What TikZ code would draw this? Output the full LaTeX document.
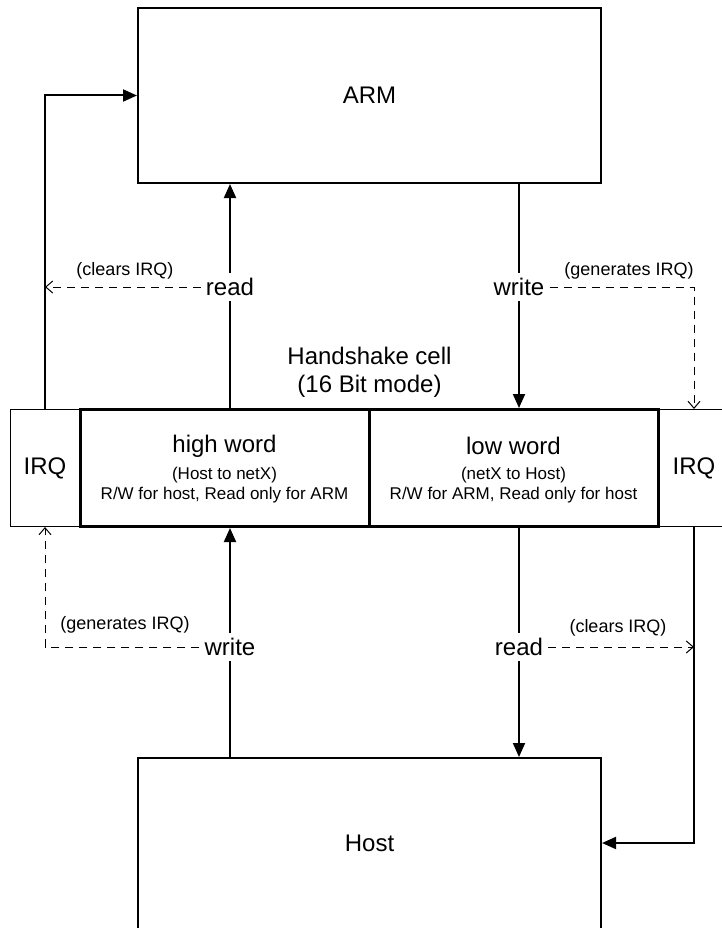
\documentclass[tikz,border=0pt]{standalone}
\usepackage{fontspec}
\setmainfont{Liberation Sans}
\usetikzlibrary{arrows.meta}
\tikzset{
  big/.style={font=\fontsize{24}{28}\selectfont},
  small/.style={font=\fontsize{17}{20}\selectfont},
  remark/.style={font=\fontsize{18}{21}\selectfont},
  blockbox/.style={draw, line width=2pt, inner sep=0pt, big},
  cellbox/.style={draw, line width=3pt, inner sep=0pt, align=center},
  irqbox/.style={draw, line width=1pt, inner sep=0pt, big},
  lbl/.style={big, inner sep=5pt},
  arr/.style={line width=2pt, -{Triangle[length=14pt,width=12pt]}},
  plain/.style={line width=2pt},
  dsh/.style={line width=1pt, dash pattern=on 8pt off 6pt},
  darr/.style={dsh, -{Straight Barb[length=7pt,width=12pt,line width=1pt]}}
}
\begin{document}
\begin{tikzpicture}[x=1pt,y=-1pt]
\useasboundingbox (0,0) rectangle (722,928);
\clip (0,0) rectangle (722,928);
% blocks
\node[blockbox, minimum width=463pt, minimum height=175pt] (arm) at (369.5,95.5) {ARM};
\node[blockbox, minimum width=463pt, minimum height=180pt] (host) at (369.5,848) {};
\node[big] (hosttxt) at (369.5,843) {Host};
% handshake cells
\node[irqbox, minimum width=70pt, minimum height=117pt] (irql) at (45,468) {IRQ};
\node[irqbox, minimum width=72pt, minimum height=117pt] (irqr) at (694,468) {IRQ};
\node[cellbox, minimum width=289pt, minimum height=117pt] (hw) at (224.5,468) {};
\node[cellbox, minimum width=289pt, minimum height=117pt] (lw) at (513.5,468) {};
\node[big] (hwt) at (224.5,446) {high word};
\node[small] (hws) at (224.5,475) {(Host to netX)};
\node[small] (hwr) at (224.5,495) {R/W for host, Read only for ARM};
\node[big] (lwt) at (513.5,446) {low word};
\node[small] (lws) at (513.5,475) {(netX to Host)};
\node[small] (lwr) at (513.5,495) {R/W for ARM, Read only for host};
\node[big, align=center] (hs) at (369.5,372) {Handshake cell\\(16 Bit mode)};
% labels
\node[lbl] (rdA) at (230,287) {read};
\node[lbl] (wrA) at (519,287) {write};
\node[lbl] (wrH) at (230,647) {write};
\node[lbl] (rdH) at (519,647) {read};
\node[remark] (c1) at (125,271) {(clears IRQ)};
\node[remark] (g1) at (629,271) {(generates IRQ)};
\node[remark] (g2) at (125,625) {(generates IRQ)};
\node[remark] (c2) at (618,628) {(clears IRQ)};
% IRQ to ARM
\draw[arr] (irql.north) |- (arm.west);
% read by ARM
\draw[plain] (hw.north -| rdA) -- (rdA.south);
\draw[arr] (rdA.north) -- (arm.south -| rdA);
% write by ARM
\draw[plain] (arm.south -| wrA) -- (wrA.north);
\draw[arr] (wrA.south) -- (lw.north -| wrA);
\draw[darr] (rdA.west) -- (rdA.west -| irql);
\draw[darr] (wrA.east) -| (irqr.north);
% host side
\draw[plain] (host.north -| wrH) -- (wrH.south);
\draw[arr] (wrH.north) -- (hw.south -| wrH);
\draw[plain] (lw.south -| rdH) -- (rdH.north);
\draw[arr] (rdH.south) -- (host.north -| rdH);
\draw[darr] (wrH.west) -| (irql.south);
\draw[darr] (rdH.east) -- (rdH.east -| irqr);
\draw[arr] (irqr.south) |- (host.east |- hosttxt.center);
\end{tikzpicture}
\end{document}
